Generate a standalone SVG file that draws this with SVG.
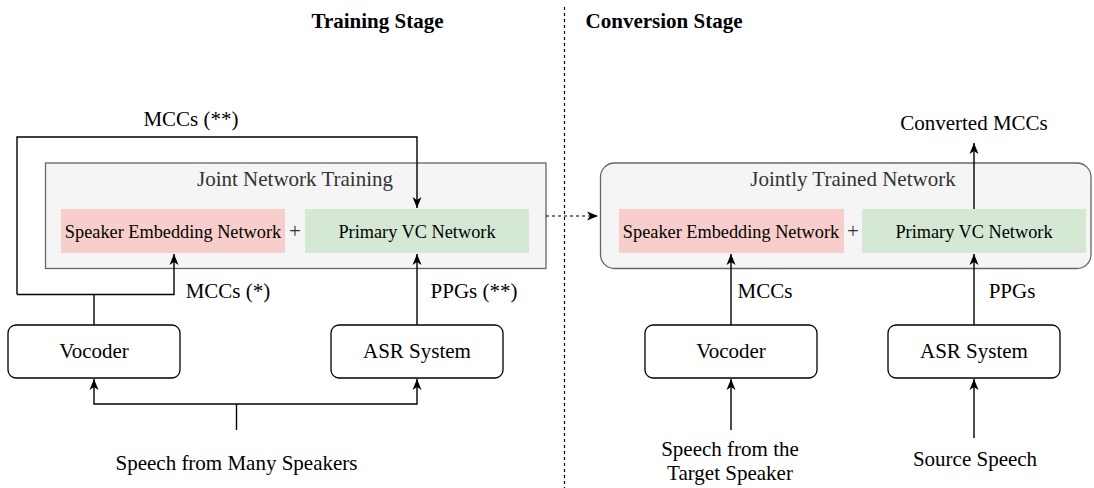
<svg xmlns="http://www.w3.org/2000/svg" width="1094" height="488" viewBox="0 0 1094 488">
<defs>
<marker id="arr" markerUnits="userSpaceOnUse" markerWidth="12" markerHeight="12" viewBox="0 0 12 12" refX="11" refY="6" orient="auto">
<path d="M0,1.5 L11,6 L0,10.5 L3,6 Z" fill="#000"/>
</marker>
<style>
text{font-family:"Liberation Serif","Times New Roman",serif;fill:#000;}
.t{font-size:21px;text-anchor:middle;}
.s{font-size:18.3px;text-anchor:middle;}
.h{font-size:21px;font-weight:bold;text-anchor:middle;}
.g{fill:#333;}
.pane{fill:#f5f5f5;stroke:#666;stroke-width:1.3;}
.red{fill:#f8cecc;}
.green{fill:#d5e8d4;}
.box{fill:#fff;stroke:#000;stroke-width:1.3;}
.c{fill:none;stroke:#000;stroke-width:1.4;}
.d{fill:none;stroke:#000;stroke-width:1.2;stroke-dasharray:3 3;}
</style>
</defs>
<rect width="1094" height="488" fill="#fff"/>

<g id="headings">
<text class="h" x="377.5" y="28">Training Stage</text>
<text class="h" x="664" y="28">Conversion Stage</text>
</g>

<g id="joint-training">
<rect class="pane" x="45.5" y="163" width="500.5" height="105.5"/>
<text class="t g" x="295" y="185.5">Joint Network Training</text>
</g>
<g id="train-speaker-embedding">
<rect class="red" x="61" y="209" width="224" height="44"/>
<text class="s" x="173" y="237.5">Speaker Embedding Network</text>
</g>
<text class="t g" x="295" y="238">+</text>
<g id="train-primary-vc">
<rect class="green" x="305" y="209" width="224" height="44"/>
<text class="s" x="417" y="237.5">Primary VC Network</text>
</g>
<g id="train-vocoder">
<rect class="box" x="8" y="325" width="172" height="53" rx="8"/>
<text class="t" x="94" y="358">Vocoder</text>
</g>
<g id="train-asr">
<rect class="box" x="331" y="325" width="172" height="53" rx="8"/>
<text class="t" x="417" y="358">ASR System</text>
</g>
<g id="train-input">
<text class="t" x="236.5" y="470">Speech from Many Speakers</text>
</g>

<g id="jointly-trained">
<rect class="pane" x="600.5" y="163" width="490.5" height="105.5" rx="14"/>
<text class="t g" x="853" y="185.5">Jointly Trained Network</text>
</g>
<g id="conv-speaker-embedding">
<rect class="red" x="619" y="209" width="225" height="44"/>
<text class="s" x="731" y="237.5">Speaker Embedding Network</text>
</g>
<text class="t g" x="853" y="238">+</text>
<g id="conv-primary-vc">
<rect class="green" x="862" y="209" width="224" height="44"/>
<text class="s" x="974" y="237.5">Primary VC Network</text>
</g>
<g id="conv-vocoder">
<rect class="box" x="645" y="325" width="172" height="53" rx="8"/>
<text class="t" x="731" y="358">Vocoder</text>
</g>
<g id="conv-asr">
<rect class="box" x="888" y="325" width="172" height="53" rx="8"/>
<text class="t" x="974" y="358">ASR System</text>
</g>
<g id="conv-target">
<text class="t" x="730" y="456">Speech from the</text>
<text class="t" x="730" y="480">Target Speaker</text>
</g>
<g id="conv-source">
<text class="t" x="975" y="466">Source Speech</text>
</g>
<g id="conv-output">
<text class="t" x="974" y="130">Converted MCCs</text>
</g>

<g id="connectors">
<line class="d" x1="564.5" y1="7" x2="564.5" y2="488"/>
<path class="d" d="M546,216 H598" marker-end="url(#arr)"/>
<path class="c" d="M94,325 V294.5"/>
<path class="c" d="M17,294.5 H174 V254" marker-end="url(#arr)"/>
<path class="c" d="M17,294.5 V137 H417 V208" marker-end="url(#arr)"/>
<path class="c" d="M417,325 V254" marker-end="url(#arr)"/>
<path class="c" d="M236.5,430 V404"/>
<path class="c" d="M236.5,404 H94 V379" marker-end="url(#arr)"/>
<path class="c" d="M236.5,404 H417 V379" marker-end="url(#arr)"/>
<path class="c" d="M731,325 V254" marker-end="url(#arr)"/>
<path class="c" d="M974,325 V254" marker-end="url(#arr)"/>
<path class="c" d="M974,209 V143" marker-end="url(#arr)"/>
<path class="c" d="M731,430 V379" marker-end="url(#arr)"/>
<path class="c" d="M974,438 V379" marker-end="url(#arr)"/>
<text class="t" x="191" y="126">MCCs (**)</text>
<text class="t" x="228" y="298">MCCs (*)</text>
<text class="t" x="474" y="298">PPGs (**)</text>
<text class="t" x="765" y="298">MCCs</text>
<text class="t" x="1012" y="298">PPGs</text>
</g>
</svg>
